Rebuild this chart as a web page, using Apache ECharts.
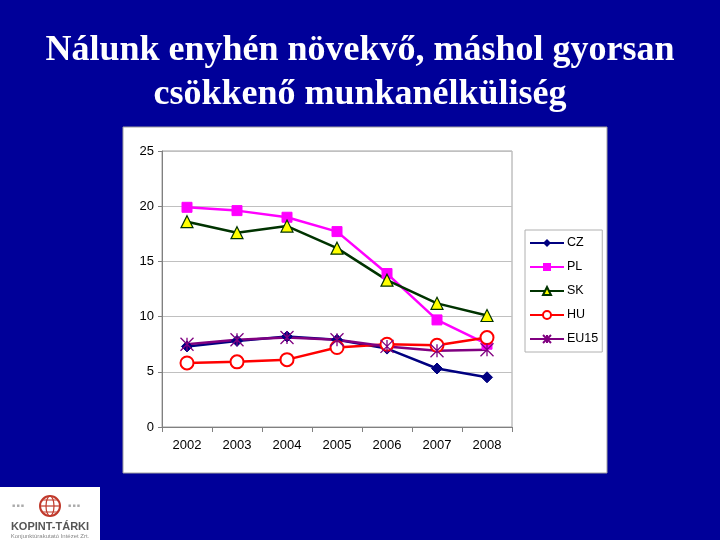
<!DOCTYPE html>
<html><head><meta charset="utf-8">
<script src="https://cdn.jsdelivr.net/npm/echarts@6/dist/echarts.min.js"></script>
<style>html,body{margin:0;padding:0;background:#000099;}#c{width:720px;height:540px;}</style>
</head><body><div id="c"></div>
<script>
const years = ['2002','2003','2004','2005','2006','2007','2008'];
const CZ   = [7.3, 7.8, 8.2, 7.9, 7.1, 5.3, 4.5];
const PL   = [19.9, 19.6, 19.0, 17.7, 13.9, 9.7, 7.5];
const SK   = [18.6, 17.6, 18.2, 16.2, 13.3, 11.2, 10.1];
const HU   = [5.8, 5.9, 6.1, 7.2, 7.5, 7.4, 8.1];
const EU15 = [7.5, 7.9, 8.1, 7.9, 7.3, 6.9, 7.0];
const yTicks = [0, 5, 10, 15, 20, 25];

const star = 'path://M0,0 L20,20 M20,0 L0,20 M10,0 L10,20';
const chart = echarts.init(document.getElementById('c'));
function s(name, data, color, symbol, size, extra) {
  return Object.assign({
    name, type: 'line', data, symbol, symbolSize: size,
    lineStyle: { color, width: 2.5 },
    itemStyle: { color, borderColor: color },
    z: 3
  }, extra || {});
}
chart.setOption({
  backgroundColor: '#000099',
  animation: false,
  title: {
    text: 'Nálunk enyhén növekvő, máshol gyorsan\ncsökkenő munkanélküliség',
    left: 'center', top: 24,
    textStyle: { color: '#ffffff', fontFamily: 'Liberation Serif', fontSize: 36, fontWeight: 'bold', lineHeight: 44 }
  },
  graphic: [
    { type: 'rect', shape: { x: 123, y: 127, width: 484, height: 346 }, style: { fill: '#ffffff', stroke: '#a0a0a0', lineWidth: 1 }, z: -10 },
    { type: 'rect', shape: { x: 162, y: 151, width: 350, height: 276 }, style: { fill: 'none', stroke: '#a0a0a0', lineWidth: 1 }, z: -5 },
    { type: 'rect', shape: { x: 0, y: 487, width: 100, height: 53 }, style: { fill: '#ffffff' }, z: -10 },
    { type: 'circle', shape: { cx: 50, cy: 506, r: 10 }, style: { fill: 'none', stroke: '#c0392b', lineWidth: 2 } },
    { type: 'ellipse', shape: { cx: 50, cy: 506, rx: 4, ry: 10 }, style: { fill: 'none', stroke: '#c0392b', lineWidth: 1.2 } },
    { type: 'line', shape: { x1: 40, y1: 506, x2: 60, y2: 506 }, style: { stroke: '#c0392b', lineWidth: 1.2 } },
    { type: 'line', shape: { x1: 42, y1: 500, x2: 58, y2: 500 }, style: { stroke: '#c0392b', lineWidth: 1 } },
    { type: 'line', shape: { x1: 42, y1: 512, x2: 58, y2: 512 }, style: { stroke: '#c0392b', lineWidth: 1 } },
    { type: 'text', style: { x: 12, y: 506, text: '■ ■ ■', fill: '#aaaaaa', font: '5px Liberation Sans', textVerticalAlign: 'middle' } },
    { type: 'text', style: { x: 68, y: 506, text: '■ ■ ■', fill: '#aaaaaa', font: '5px Liberation Sans', textVerticalAlign: 'middle' } },
    { type: 'text', style: { x: 50, y: 527, text: 'KOPINT-TÁRKI', fill: '#555555', font: 'bold 11px Liberation Sans', textAlign: 'center', textVerticalAlign: 'middle' } },
    { type: 'text', style: { x: 50, y: 536, text: 'Konjunktúrakutató Intézet Zrt.', fill: '#888888', font: '6px Liberation Sans', textAlign: 'center', textVerticalAlign: 'middle' } }
  ],
  grid: { left: 162, right: 208, top: 151, bottom: 113, containLabel: false },
  legend: {
    orient: 'vertical', left: 525, top: 230,
    backgroundColor: '#ffffff', borderColor: '#b0b0b0', borderWidth: 1,
    padding: [6, 4, 6, 4], itemGap: 10, itemWidth: 34, itemHeight: 10,
    textStyle: { color: '#000', fontFamily: 'Liberation Sans', fontSize: 12.5, lineHeight: 14, padding: [0, 0, 0, -2] },
    data: ['CZ', 'PL', 'SK', 'HU', 'EU15']
  },
  xAxis: {
    type: 'category', data: years, boundaryGap: true,
    axisLine: { lineStyle: { color: '#808080', width: 1 } },
    axisTick: { show: true, length: 5, lineStyle: { color: '#808080' } },
    axisLabel: { color: '#000', fontFamily: 'Liberation Sans', fontSize: 13, margin: 12 }
  },
  yAxis: {
    type: 'value', min: 0, max: 25, interval: 5,
    axisLine: { show: true, lineStyle: { color: '#808080', width: 1 } },
    axisTick: { show: true, length: 4, lineStyle: { color: '#808080' } },
    splitLine: { lineStyle: { color: '#c0c0c0', width: 1 } },
    axisLabel: { color: '#000', fontFamily: 'Liberation Sans', fontSize: 13, margin: 8 }
  },
  series: [
    s('CZ', CZ, '#000080', 'diamond', 11),
    s('PL', PL, '#ff00ff', 'rect', 10),
    s('SK', SK, '#003300', 'triangle', 12, { itemStyle: { color: '#ffff00', borderColor: '#003300', borderWidth: 1.2 } }),
    s('HU', HU, '#ff0000', 'emptyCircle', 13, { itemStyle: { color: '#ff0000', borderColor: '#ff0000', borderWidth: 1.2 } }),
    s('EU15', EU15, '#800080', star, 13, { itemStyle: { color: '#800080', borderColor: '#800080', borderWidth: 1.3 } })
  ]
});
</script></body></html>
